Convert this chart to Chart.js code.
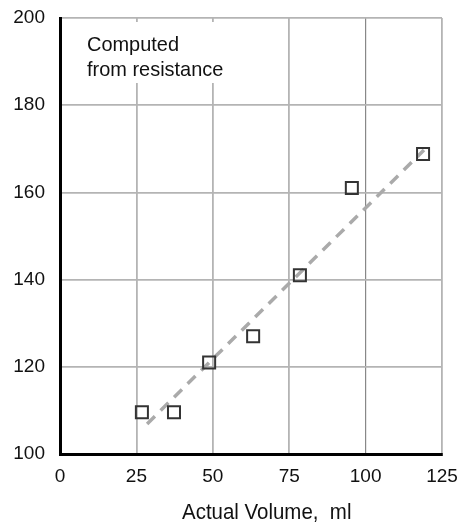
<!DOCTYPE html>
<html>
<head>
<meta charset="utf-8">
<script src="https://cdn.jsdelivr.net/npm/chart.js@4"></script>
<style>
  html, body { margin: 0; padding: 0; background: #fff; }
  #wrap { width: 459px; height: 524px; }
</style>
</head>
<body>
<div id="wrap"><canvas id="chart" width="459" height="524"></canvas></div>
<script>
// measured points (actual volume vs computed volume)
const actualVolume = [26.8, 37.3, 48.8, 63.2, 78.5, 95.5, 118.8];
const computedVolume = [109.6, 109.6, 121, 127, 141, 161, 168.8];

// dashed fit line, two end points
const fitX = [28.5, 119.1];
const fitY = [106.9, 169.7];

const xTicks = [0, 25, 50, 75, 100, 125];
const yTicks = [100, 120, 140, 160, 180, 200];

const noteLines = ['Computed', 'from resistance'];
const xTitle = 'Actual Volume,  ml';

const FONT = '"Liberation Sans", Arial, sans-serif';

// slightly condensed text, like the original typeface
function narrowText(ctx, text, x, y, squeeze) {
  ctx.save();
  ctx.translate(x, y);
  ctx.scale(squeeze, 1);
  ctx.fillText(text, 0, 0);
  ctx.restore();
}

const notePlugin = {
  id: 'note',
  beforeDatasetsDraw(chart) {
    const { ctx, chartArea } = chart;
    ctx.save();
    ctx.fillStyle = '#fff';
    ctx.fillRect(chartArea.left + 2, chartArea.top + 4, 178, 61);
    ctx.fillStyle = '#111';
    ctx.font = '21px ' + FONT;
    ctx.textBaseline = 'alphabetic';
    ctx.textAlign = 'left';
    noteLines.forEach((t, i) => narrowText(ctx, t, chartArea.left + 27, chartArea.top + 33 + i * 25, 0.95));
    ctx.restore();
  },
  afterDraw(chart) {
    const { ctx } = chart;
    ctx.save();
    ctx.fillStyle = '#111';
    ctx.font = '22px ' + FONT;
    ctx.textAlign = 'left';
    ctx.textBaseline = 'alphabetic';
    narrowText(ctx, xTitle, 182, 519, 0.93);
    ctx.restore();
  }
};

new Chart(document.getElementById('chart'), {
  type: 'scatter',
  data: {
    datasets: [
      {
        data: actualVolume.map((x, i) => ({ x, y: computedVolume[i] })),
        pointStyle: 'rect',
        pointRadius: 8.5,
        pointHoverRadius: 8.5,
        pointBorderWidth: 2,
        pointBorderColor: '#333',
        pointBackgroundColor: 'rgba(255,255,255,0)',
        showLine: false,
        order: 1
      },
      {
        type: 'line',
        data: fitX.map((x, i) => ({ x, y: fitY[i] })),
        borderColor: '#aaa',
        borderWidth: 3.5,
        borderDash: [11, 8],
        pointRadius: 0,
        fill: false,
        order: 2
      }
    ]
  },
  options: {
    responsive: false,
    animation: false,
    layout: { padding: { top: 18, right: 17, left: 0, bottom: 0 } },
    plugins: { legend: { display: false }, tooltip: { enabled: false } },
    scales: {
      x: {
        type: 'linear',
        min: 0,
        max: 125,
        afterBuildTicks: s => { s.ticks = xTicks.map(v => ({ value: v })); },
        afterFit: s => {
          s.height = 70;
          s.paddingLeft = 0;
          s.paddingRight = 0;
        },
        ticks: { color: '#111', font: { size: 19, family: FONT }, padding: 11 },
        grid: {
          color: ctx => (ctx.tick && ctx.tick.value === 100 ? '#888' : '#b4b4b4'),
          lineWidth: ctx => (ctx.tick && ctx.tick.value === 100 ? 1.2 : 1.8),
          drawTicks: false
        },
        border: { color: '#000', width: 3 }
      },
      y: {
        type: 'linear',
        min: 100,
        max: 200,
        afterBuildTicks: s => { s.ticks = yTicks.map(v => ({ value: v })); },
        afterFit: s => {
          s.width = 60;
          s.paddingTop = 0;
          s.paddingBottom = 0;
        },
        ticks: { color: '#111', font: { size: 19, family: FONT }, padding: 15 },
        grid: { color: '#b4b4b4', lineWidth: 1.8, drawTicks: false },
        border: { color: '#000', width: 3 }
      }
    }
  },
  plugins: [notePlugin]
});
</script>
</body>
</html>
